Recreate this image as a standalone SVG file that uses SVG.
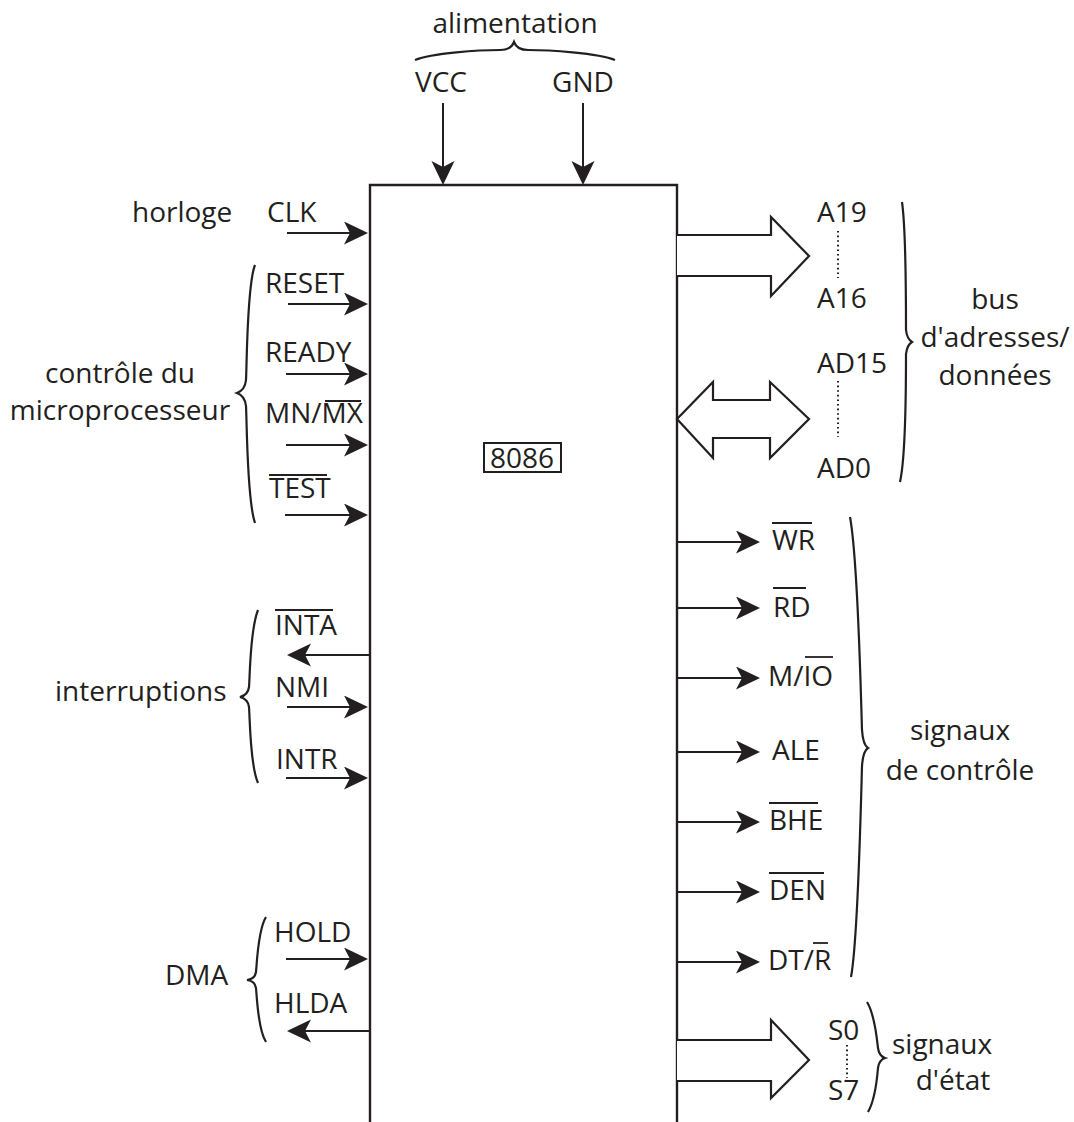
<svg xmlns="http://www.w3.org/2000/svg" width="1074" height="1122" viewBox="0 0 1074 1122">
<style>
text{font-family:"Open Sans","Liberation Sans",sans-serif;font-size:28px;fill:#231f20}
.m{text-anchor:middle}
.ln{stroke:#231f20;stroke-width:2;fill:none}
.ol{stroke:#231f20;stroke-width:1.8;fill:none}
.br{stroke:#231f20;stroke-width:2.2;fill:none}
.dot{stroke:#231f20;stroke-width:2;stroke-dasharray:1.6 3;fill:none}
.big{stroke:#231f20;stroke-width:2.2;fill:#fff;stroke-linejoin:miter}
</style>
<defs>
<marker id="ah" markerUnits="userSpaceOnUse" markerWidth="26" markerHeight="24" refX="19" refY="11.5" orient="auto">
<path d="M0,0 L24,11.5 L0,23 L6,11.5 Z" fill="#231f20"/>
</marker>
</defs>
<rect width="1074" height="1122" fill="#fff"/>

<g id="chip">
<path class="ln" d="M370,1130 V185 H677 V1130" style="stroke-width:2.4"/>
<rect x="484" y="443" width="77" height="29" fill="none" stroke="#231f20" stroke-width="2"/>
<text class="m" x="522" y="468">8086</text>
</g>

<g id="power">
<path class="br" d="M415,60 C432,53 480,50 500,50 Q511,50 514,42 Q517,50 528,50 C548,50 598,53 615,60"/>
<text class="m" x="515" y="33">alimentation</text>
<text class="m" x="441" y="92">VCC</text>
<text class="m" x="583" y="92">GND</text>
</g>

<g id="left-labels">
<text x="132" y="222">horloge</text>
<text class="m" x="120" y="383">contrôle du</text>
<text class="m" x="120" y="420">microprocesseur</text>
<text x="55" y="701">interruptions</text>
<text x="165" y="985">DMA</text>
<path class="br" d="M255,265 C247,285 247,360 246,380 Q245,390 237,393 Q245,396 246,406 C247,426 247,500 255,523"/>
<path class="br" d="M258,610 C250,630 250,675 249,687 Q248,695 240,697 Q248,699 249,707 C250,720 250,765 258,783"/>
<path class="br" d="M266,917 C258,930 257,962 256,972 Q255,979 247,980 Q255,981 256,988 C257,998 258,1030 266,1042"/>
</g>

<g id="left-signals">
<text x="267" y="222">CLK</text>
<text x="265" y="293">RESET</text>
<text x="265" y="362">READY</text>
<text x="265" y="423">MN/MX</text>
<line class="ol" x1="325" y1="401" x2="361" y2="401"/>
<text x="269" y="498">TEST</text>
<line class="ol" x1="269" y1="475" x2="327" y2="475"/>
<text x="275" y="635">INTA</text>
<line class="ol" x1="275" y1="610" x2="333" y2="610"/>
<text x="275" y="697">NMI</text>
<text x="276" y="769">INTR</text>
<text x="274" y="942">HOLD</text>
<text x="274" y="1013">HLDA</text>
</g>

<g id="right-signals">
<text x="817" y="222">A19</text>
<text x="817" y="308">A16</text>
<text x="817" y="373">AD15</text>
<text x="817" y="478">AD0</text>
<line class="dot" x1="838" y1="231" x2="838" y2="278"/>
<line class="dot" x1="838" y1="381" x2="838" y2="437"/>
<text x="772" y="550">WR</text>
<line class="ol" x1="772" y1="523" x2="812" y2="523"/>
<text x="773" y="617">RD</text>
<line class="ol" x1="773" y1="588" x2="806" y2="588"/>
<text x="768" y="686">M/IO</text>
<line class="ol" x1="805" y1="657" x2="833" y2="657"/>
<text x="772" y="760">ALE</text>
<text x="769" y="830">BHE</text>
<line class="ol" x1="769" y1="803" x2="818" y2="803"/>
<text x="769" y="900">DEN</text>
<line class="ol" x1="769" y1="873" x2="824" y2="873"/>
<text x="768" y="970">DT/R</text>
<line class="ol" x1="813" y1="943" x2="828" y2="943"/>
<text x="828" y="1040">S0</text>
<text x="828" y="1100">S7</text>
<line class="dot" x1="847" y1="1045" x2="847" y2="1078"/>
</g>

<g id="right-labels">
<path class="br" d="M902,202 C906,230 906,310 906,330 Q907,339 912,342 Q907,345 906,354 C906,374 906,455 900,482"/>
<text class="m" x="995" y="309">bus</text>
<text class="m" x="995" y="347">d'adresses/</text>
<text class="m" x="995" y="385">données</text>
<path class="br" d="M850,517 C858,560 861,700 862,730 Q863,745 868,748 Q863,751 862,766 C861,800 858,940 851,977"/>
<text class="m" x="960" y="740">signaux</text>
<text class="m" x="960" y="780">de contrôle</text>
<path class="br" d="M867,1002 C875,1015 877,1040 878,1048 Q879,1056 885,1058 Q879,1060 878,1068 C877,1080 875,1100 868,1112"/>
<text x="892" y="1054">signaux</text>
<text class="m" x="953" y="1090">d'état</text>
</g>

<g id="connectors">
<line class="ln" x1="443" y1="103" x2="443" y2="180" marker-end="url(#ah)"/>
<line class="ln" x1="583" y1="103" x2="583" y2="180" marker-end="url(#ah)"/>
<line class="ln" x1="287" y1="233" x2="363" y2="233" marker-end="url(#ah)"/>
<line class="ln" x1="288" y1="304" x2="363" y2="304" marker-end="url(#ah)"/>
<line class="ln" x1="286" y1="374" x2="363" y2="374" marker-end="url(#ah)"/>
<line class="ln" x1="286" y1="445" x2="363" y2="445" marker-end="url(#ah)"/>
<line class="ln" x1="285" y1="515" x2="363" y2="515" marker-end="url(#ah)"/>
<line class="ln" x1="370" y1="655" x2="292" y2="655" marker-end="url(#ah)"/>
<line class="ln" x1="287" y1="707" x2="363" y2="707" marker-end="url(#ah)"/>
<line class="ln" x1="286" y1="778" x2="363" y2="778" marker-end="url(#ah)"/>
<line class="ln" x1="286" y1="959" x2="363" y2="959" marker-end="url(#ah)"/>
<line class="ln" x1="370" y1="1031" x2="292" y2="1031" marker-end="url(#ah)"/>
<line class="ln" x1="677" y1="542" x2="755" y2="542" marker-end="url(#ah)"/>
<line class="ln" x1="677" y1="608" x2="755" y2="608" marker-end="url(#ah)"/>
<line class="ln" x1="677" y1="678" x2="755" y2="678" marker-end="url(#ah)"/>
<line class="ln" x1="677" y1="752" x2="755" y2="752" marker-end="url(#ah)"/>
<line class="ln" x1="677" y1="822" x2="755" y2="822" marker-end="url(#ah)"/>
<line class="ln" x1="677" y1="892" x2="755" y2="892" marker-end="url(#ah)"/>
<line class="ln" x1="677" y1="962" x2="755" y2="962" marker-end="url(#ah)"/>
<path class="big" d="M677,235 H771 V217 L809,256 L771,296 V276 H677"/>
<path class="big" d="M677,419 L713,382 V400 H770 V382 L809,419 L770,458 V438 H713 V458 Z"/>
<path class="big" d="M677,1040 H771 V1020 L809,1060 L771,1098 V1081 H677"/>
</g>
</svg>
